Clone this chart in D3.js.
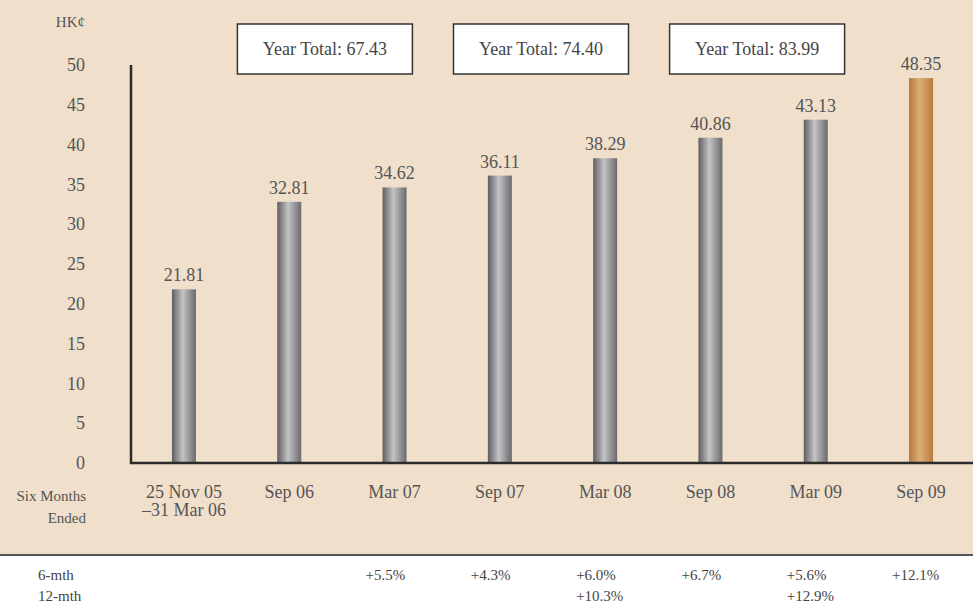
<!DOCTYPE html>
<html>
<head>
<meta charset="utf-8">
<script src="https://cdn.jsdelivr.net/npm/d3@7"></script>
<style>
  body { margin: 0; background: #f0dfcb; }
  svg { display: block; font-family: "Liberation Serif", "Times New Roman", serif; }
</style>
</head>
<body>
<svg id="chart"></svg>
<script>
var width = 973, height = 611;

var periods = ['p0', 'Sep 06', 'Mar 07', 'Sep 07', 'Mar 08', 'Sep 08', 'Mar 09', 'Sep 09'];
var periodLabels = [['25 Nov 05', '\u201331 Mar 06'], ['Sep 06'], ['Mar 07'], ['Sep 07'], ['Mar 08'], ['Sep 08'], ['Mar 09'], ['Sep 09']];
var values = [21.81, 32.81, 34.62, 36.11, 38.29, 40.86, 43.13, 48.35];
var highlight = [false, false, false, false, false, false, false, true];
var yTicks = [0, 5, 10, 15, 20, 25, 30, 35, 40, 45, 50];
var yearTotals = [
  { label: 'Year Total: 67.43', pair: ['Sep 06', 'Mar 07'] },
  { label: 'Year Total: 74.40', pair: ['Sep 07', 'Mar 08'] },
  { label: 'Year Total: 83.99', pair: ['Sep 08', 'Mar 09'] }
];
var growth6 = ['', '', '+5.5%', '+4.3%', '+6.0%', '+6.7%', '+5.6%', '+12.1%'];
var growth12 = ['', '', '', '', '+10.3%', '', '+12.9%', ''];

var svg = d3.select('#chart')
  .attr('width', width)
  .attr('height', height);

// background
svg.append('rect').attr('width', width).attr('height', height).attr('fill', '#f0dfcb');
svg.append('rect').attr('y', 556).attr('width', width).attr('height', height - 556).attr('fill', '#ffffff');
svg.append('line')
  .attr('x1', 0).attr('x2', width)
  .attr('y1', 555).attr('y2', 555)
  .style('stroke', '#555').style('stroke-width', 2);

var defs = svg.append('defs');
function grad(id, edgeL, mid, edgeR) {
  var g = defs.append('linearGradient').attr('id', id)
    .attr('x1', '0%').attr('x2', '100%').attr('y1', '0%').attr('y2', '0%');
  g.append('stop').attr('offset', '0%').attr('stop-color', edgeL);
  g.append('stop').attr('offset', '45%').attr('stop-color', mid);
  g.append('stop').attr('offset', '100%').attr('stop-color', edgeR);
}
grad('barGray', '#5e5e62', '#c4c4c6', '#6a6a6e');
grad('barGold', '#b87a38', '#dcae78', '#b97c3b');

var x = d3.scaleBand()
  .domain(periods)
  .range([131.3, 973.7])
  .padding(0);

var y = d3.scaleLinear()
  .domain([0, 50])
  .range([463, 65]);

var barWidth = 24;
var cx = d => x(d) + x.bandwidth() / 2;

// y axis
var yAxis = svg.append('g')
  .attr('transform', 'translate(131,0)')
  .call(d3.axisLeft(y).tickValues(yTicks).tickSize(0).tickPadding(46));
yAxis.select('.domain').remove();
yAxis.selectAll('text')
  .style('font-family', '"Liberation Serif", serif')
  .style('font-size', '18px')
  .attr('fill', '#555');

svg.append('text')
  .attr('x', 85).attr('y', 27)
  .attr('text-anchor', 'end')
  .style('font-size', '15px')
  .attr('fill', '#555')
  .text('HK\u00a2');

// bars
svg.append('g').selectAll('rect')
  .data(values)
  .enter()
  .append('rect')
  .attr('x', (d, i) => cx(periods[i]) - barWidth / 2)
  .attr('y', d => y(d))
  .attr('width', barWidth)
  .attr('height', d => y(0) - y(d))
  .attr('fill', (d, i) => highlight[i] ? 'url(#barGold)' : 'url(#barGray)');

svg.append('g').selectAll('text')
  .data(values)
  .enter()
  .append('text')
  .attr('x', (d, i) => cx(periods[i]))
  .attr('y', d => y(d) - 8)
  .attr('text-anchor', 'middle')
  .style('font-size', '18px')
  .attr('fill', '#555')
  .text(d => d.toFixed(2));

// axis lines
svg.append('line')
  .attr('x1', 131).attr('x2', 131)
  .attr('y1', y(50)).attr('y2', y(0) + 1)
  .style('stroke', '#2b2b2b').style('stroke-width', 2.5);
svg.append('line')
  .attr('x1', 130).attr('x2', width)
  .attr('y1', y(0)).attr('y2', y(0))
  .style('stroke', '#2b2b2b').style('stroke-width', 2.5);

// category labels
var cats = svg.append('g').selectAll('text')
  .data(periodLabels)
  .enter()
  .append('text')
  .attr('x', (d, i) => cx(periods[i]))
  .attr('y', 498)
  .attr('text-anchor', 'middle')
  .style('font-size', '18px')
  .attr('fill', '#555');
cats.selectAll('tspan')
  .data(d => d)
  .enter()
  .append('tspan')
  .attr('x', function() { return d3.select(this.parentNode).attr('x'); })
  .attr('dy', (d, i) => i === 0 ? 0 : 18)
  .text(d => d);

svg.append('text').attr('x', 86).attr('y', 501).attr('text-anchor', 'end')
  .style('font-size', '15px').attr('fill', '#555').text('Six Months');
svg.append('text').attr('x', 86).attr('y', 523).attr('text-anchor', 'end')
  .style('font-size', '15px').attr('fill', '#555').text('Ended');

// year total boxes, spread slightly wider than the bar pairs
var boxes = svg.append('g').selectAll('g')
  .data(yearTotals)
  .enter()
  .append('g')
  .attr('transform', (d, i) => {
    var mid = (cx(d.pair[0]) + cx(d.pair[1])) / 2;
    return 'translate(' + (mid - 17 + 5.5 * i) + ',49)';
  });
boxes.append('rect')
  .attr('x', -87.5).attr('y', -25)
  .attr('width', 175).attr('height', 50)
  .attr('fill', '#fff')
  .style('stroke', '#333').style('stroke-width', 1.5);
boxes.append('text')
  .attr('text-anchor', 'middle')
  .attr('dy', '0.35em')
  .style('font-size', '18px')
  .attr('fill', '#444')
  .text(d => d.label);

// growth rows
svg.append('text').attr('x', 38).attr('y', 580)
  .style('font-size', '15px').attr('fill', '#444').text('6-mth');
svg.append('text').attr('x', 38).attr('y', 601)
  .style('font-size', '15px').attr('fill', '#444').text('12-mth');

svg.append('g').selectAll('text')
  .data(growth6)
  .enter()
  .append('text')
  .attr('x', (d, i) => cx(periods[i]) - 29)
  .attr('y', 580)
  .style('font-size', '15px')
  .attr('fill', '#444')
  .text(d => d);
svg.append('g').selectAll('text')
  .data(growth12)
  .enter()
  .append('text')
  .attr('x', (d, i) => cx(periods[i]) - 29)
  .attr('y', 601)
  .style('font-size', '15px')
  .attr('fill', '#444')
  .text(d => d);
</script>
</body>
</html>
